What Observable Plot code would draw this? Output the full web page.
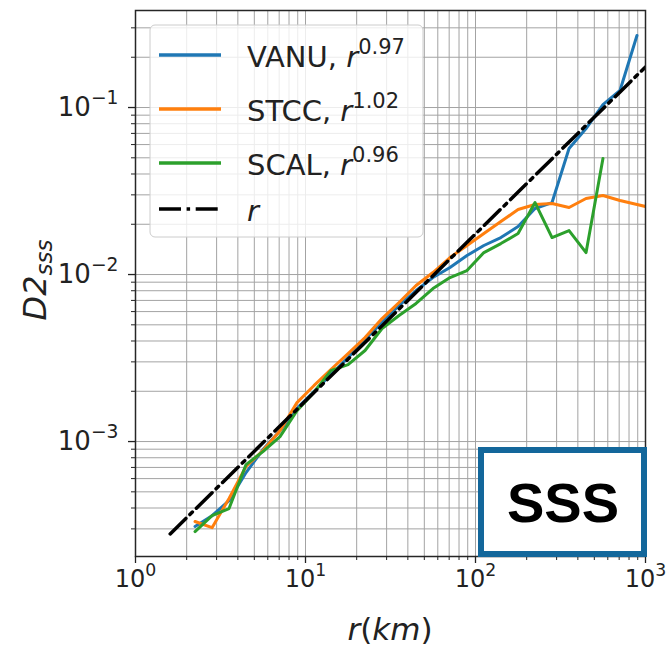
<!DOCTYPE html>
<html><head><meta charset="utf-8">
<script src="https://cdn.jsdelivr.net/npm/d3@7"></script>
<script src="https://cdn.jsdelivr.net/npm/@observablehq/plot@0.6"></script>
<style>
body{margin:0;background:#fff;}
#wrap{position:relative;width:667px;height:649px;font-family:"DejaVu Sans",sans-serif;}
#wrap svg.over{position:absolute;left:0;top:0;pointer-events:none;}
</style></head><body><div id="wrap"></div>
<script>
// separation r (km)
const rKm = [2.24, 2.82, 3.55, 4.47, 5.62, 7.08, 8.91, 11.2, 14.1, 17.8, 22.4, 28.2, 35.5, 44.7, 56.2, 70.8, 89.1, 112, 141, 178, 224, 282, 355, 447, 562, 708, 891, 1122];
// D2_sss per region
const vanu = [0.000310, 0.000360, 0.000443, 0.000652, 0.000896, 0.00116, 0.00158, 0.00199, 0.00252, 0.00318, 0.00408, 0.00516, 0.00652, 0.00802, 0.00959, 0.01101, 0.01299, 0.01492, 0.01665, 0.01938, 0.02485, 0.02698, 0.05682, 0.07486, 0.1042, 0.1264, 0.2699];
const stcc = [0.000332, 0.000305, 0.000456, 0.000709, 0.000883, 0.00116, 0.00171, 0.00216, 0.00270, 0.00336, 0.00420, 0.00545, 0.00680, 0.00859, 0.01028, 0.01264, 0.01492, 0.01759, 0.02077, 0.02450, 0.02625, 0.02661, 0.02519, 0.02852, 0.02972, 0.02774, 0.02625, 0.02485];
const scal = [0.000289, 0.000360, 0.000397, 0.000728, 0.000871, 0.00107, 0.00153, 0.00197, 0.00266, 0.00289, 0.00351, 0.00475, 0.00568, 0.00671, 0.00824, 0.00959, 0.01057, 0.01354, 0.01533, 0.01759, 0.02698, 0.01665, 0.01834, 0.01354, 0.04951];
// reference slope-1 line
const refR = [1.6, 1000];
const refD = [0.00028, 0.175];

const seriesNames = ["VANU", "STCC", "SCAL"];
const seriesExp = ["0.97", "1.02", "0.96"];
const seriesColors = ["#1f77b4", "#ff7f0e", "#2ca02c"];
const refLabel = "r";
const yLabel = "D2";
const ySub = "sss";
const badge = "SSS";

const xTicks = [1, 10, 100, 1000];
const yTicks = [0.001, 0.01, 0.1];
const xDomain = [1, 1000];
const yDomain = [2.05e-4, 0.381];

const minorX = [];
for (let e = 0; e < 3; e++) for (let m = 2; m <= 9; m++) minorX.push(m * 10 ** e);
const minorY = [];
for (let e = -4; e < 0; e++) for (let m = 2; m <= 9; m++) { const v = m * 10 ** e; if (v >= yDomain[0] && v <= yDomain[1]) minorY.push(v); }

const allSeries = [vanu, stcc, scal];
const rows = [];
allSeries.forEach((vals, si) => vals.forEach((v, i) => rows.push({r: rKm[i], d: v, s: seriesNames[si]})));
const refRows = refR.map((r, i) => ({r, d: refD[i]}));

const fmt = d => "10^" + Math.round(Math.log10(d));
const gridStyle = {stroke: "#a3a3a3", strokeOpacity: 1, strokeWidth: 1};

const chart = Plot.plot({
  width: 667, height: 649,
  marginLeft: 135, marginRight: 22, marginTop: 10, marginBottom: 93,
  style: {fontFamily: "DejaVu Sans", fontSize: "25px", color: "#222", background: "white"},
  x: {type: "log", domain: xDomain},
  y: {type: "log", domain: yDomain},
  color: {domain: seriesNames, range: seriesColors},
  marks: [
    Plot.ruleX(minorX, gridStyle),
    Plot.ruleX(xTicks, gridStyle),
    Plot.ruleY(minorY, gridStyle),
    Plot.ruleY(yTicks, gridStyle),
    Plot.line(rows, {x: "r", y: "d", z: "s", stroke: "s", strokeWidth: 3, clip: true, strokeLinejoin: "round"}),
    Plot.line(refRows, {x: "r", y: "d", stroke: "black", strokeWidth: 3.5, strokeDasharray: "22,5.6,3.5,5.6", clip: true}),
    Plot.frame({stroke: "#262626", strokeWidth: 1.5}),
    Plot.axisX(xTicks, {tickSize: 7, tickPadding: 6, tickFormat: fmt, label: null, strokeWidth: 1.3, fontSize: 24}),
    Plot.axisX(minorX, {tickSize: 4, tickFormat: () => "", label: null, strokeWidth: 1}),
    Plot.axisY(yTicks, {tickSize: 7, tickPadding: 10, tickFormat: fmt, label: null, strokeWidth: 1.3, fontSize: 26}),
    Plot.axisY(minorY, {tickSize: 4, tickFormat: () => "", label: null, strokeWidth: 1})
  ]
});

const ns = "http://www.w3.org/2000/svg";
chart.querySelectorAll("text").forEach(t => {
  const m = /^10\^(.+)$/.exec(t.textContent);
  if (!m) return;
  t.textContent = "";
  const b = document.createElementNS(ns, "tspan"); b.textContent = "10";
  const s = document.createElementNS(ns, "tspan"); s.textContent = m[1].replace("-", "\u2212");
  s.setAttribute("font-size", "0.72em"); s.setAttribute("dy", "-0.62em");
  t.appendChild(b); t.appendChild(s);
});

const wrap = document.getElementById("wrap");
wrap.appendChild(chart);

// overlay: legend, axis titles, badge
const over = d3.select(wrap).append("svg").attr("class", "over").attr("width", 667).attr("height", 649)
  .style("font-family", "DejaVu Sans");

const lg = over.append("g");
lg.append("rect").attr("x", 150).attr("y", 25).attr("width", 273).attr("height", 212).attr("rx", 5)
  .attr("fill", "white").attr("fill-opacity", 0.8).attr("stroke", "#cccccc").attr("stroke-width", 1);
const rowY = [55, 109, 163, 209];
seriesNames.forEach((n, i) => {
  lg.append("line").attr("x1", 159).attr("x2", 221).attr("y1", rowY[i]).attr("y2", rowY[i])
    .attr("stroke", seriesColors[i]).attr("stroke-width", 3.5);
  const t = lg.append("text").attr("x", 247).attr("y", rowY[i] + 12).attr("font-size", 29).attr("fill", "#222");
  t.append("tspan").text(n + ", ");
  t.append("tspan").attr("font-style", "italic").text("r");
  t.append("tspan").attr("font-size", 21).attr("dy", -13).text(seriesExp[i]);
});
lg.append("line").attr("x1", 159).attr("x2", 221).attr("y1", rowY[3]).attr("y2", rowY[3])
  .attr("stroke", "black").attr("stroke-width", 3.5).attr("stroke-dasharray", "22,5.6,3.5,5.6");
lg.append("text").attr("x", 247).attr("y", rowY[3] + 12).attr("font-size", 29).attr("font-style", "italic").attr("fill", "#222").text(refLabel);

// x title
const xt = over.append("text").attr("x", 390).attr("y", 640).attr("text-anchor", "middle").attr("font-size", 31).attr("fill", "#222");
xt.append("tspan").attr("font-style", "italic").text("r");
xt.append("tspan").text("(");
xt.append("tspan").attr("font-style", "italic").text("km");
xt.append("tspan").text(")");

// y title
const yt = over.append("text").attr("transform", "translate(46,280) rotate(-90)").attr("text-anchor", "middle").attr("font-size", 32).attr("fill", "#222");
yt.append("tspan").attr("font-style", "italic").text(yLabel);
yt.append("tspan").attr("font-style", "italic").attr("font-size", 23).attr("dy", 6).text(ySub);

// badge
over.append("rect").attr("x", 481).attr("y", 450).attr("width", 163).attr("height", 104)
  .attr("fill", "white").attr("stroke", "#13679b").attr("stroke-width", 6);
over.append("text").attr("x", 563).attr("y", 522).attr("text-anchor", "middle")
  .attr("font-family", "Liberation Sans, Arial, sans-serif").attr("font-weight", "bold").attr("font-size", 56).attr("fill", "#000").text(badge);
</script>
</body></html>
